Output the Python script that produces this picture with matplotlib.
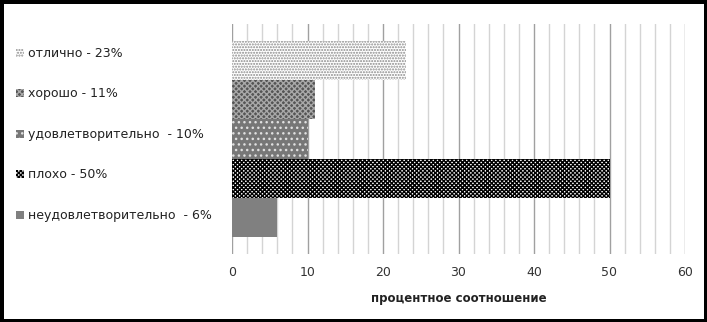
import matplotlib
matplotlib.use("Agg")
import matplotlib.pyplot as plt
from matplotlib.ticker import MultipleLocator

labels = ["отлично - 23%", "хорошо - 11%", "удовлетворительно  - 10%",
          "плохо - 50%", "неудовлетворительно  - 6%"]
values = [23, 11, 10, 50, 6]
xticks = [0, 10, 20, 30, 40, 50, 60]

styles = [
    dict(facecolor="white", edgecolor="#8a8a8a", hatch="." * 6),
    dict(facecolor="#555555", edgecolor="#a8a8a8", hatch="x" * 6),
    dict(facecolor="#777777", edgecolor="#e0e0e0", hatch="." * 3),
    dict(facecolor="white", edgecolor="black", hatch="x" * 8),
    dict(facecolor="#808080", edgecolor="#808080", hatch=None),
]

plt.rcParams["font.family"] = ["DejaVu Sans"]
plt.rcParams["hatch.linewidth"] = 1.0

fig = plt.figure(figsize=(7.07, 3.22), dpi=100)
fig.patch.set_facecolor("white")
fig.patch.set_edgecolor("black")
fig.patch.set_linewidth(5)

ax = fig.add_axes([232/707, 68/322, 453/707, 230/322])
n = len(values)
handles = []
for i, (lab, v, st) in enumerate(zip(labels, values, styles)):
    b = ax.barh(n - 1 - i, v, height=1.0, linewidth=0, label=lab, **st)
    handles.append(b)

ax.set_xlim(0, 60)
ax.set_ylim(-0.93, n - 1 + 0.93)
ax.set_xticks(xticks)
ax.xaxis.set_minor_locator(MultipleLocator(2))
ax.set_yticks([])
ax.set_axisbelow(True)
ax.grid(axis="x", which="major", color="#a0a0a0", linewidth=1.0)
ax.grid(axis="x", which="minor", color="#d4d4d4", linewidth=1.0)
for s in ax.spines.values():
    s.set_visible(False)
ax.tick_params(axis="x", which="both", length=0, pad=9, labelsize=9, labelcolor="#333333")
ax.set_xlabel("процентное соотношение", fontsize=8.5, fontweight="bold",
              color="#222222", labelpad=9)

leg = fig.legend(handles=handles, labels=labels, loc="upper left",
                 bbox_to_anchor=(16/707, 1 - 47/322), frameon=False,
                 fontsize=9, handlelength=0.6, handleheight=0.6,
                 handletextpad=0.4, labelspacing=2.2, borderaxespad=0,
                 borderpad=0)
for t in leg.get_texts():
    t.set_color("#222222")

fig.savefig("out.png", dpi=100, facecolor=fig.get_facecolor(), edgecolor=fig.get_edgecolor())
